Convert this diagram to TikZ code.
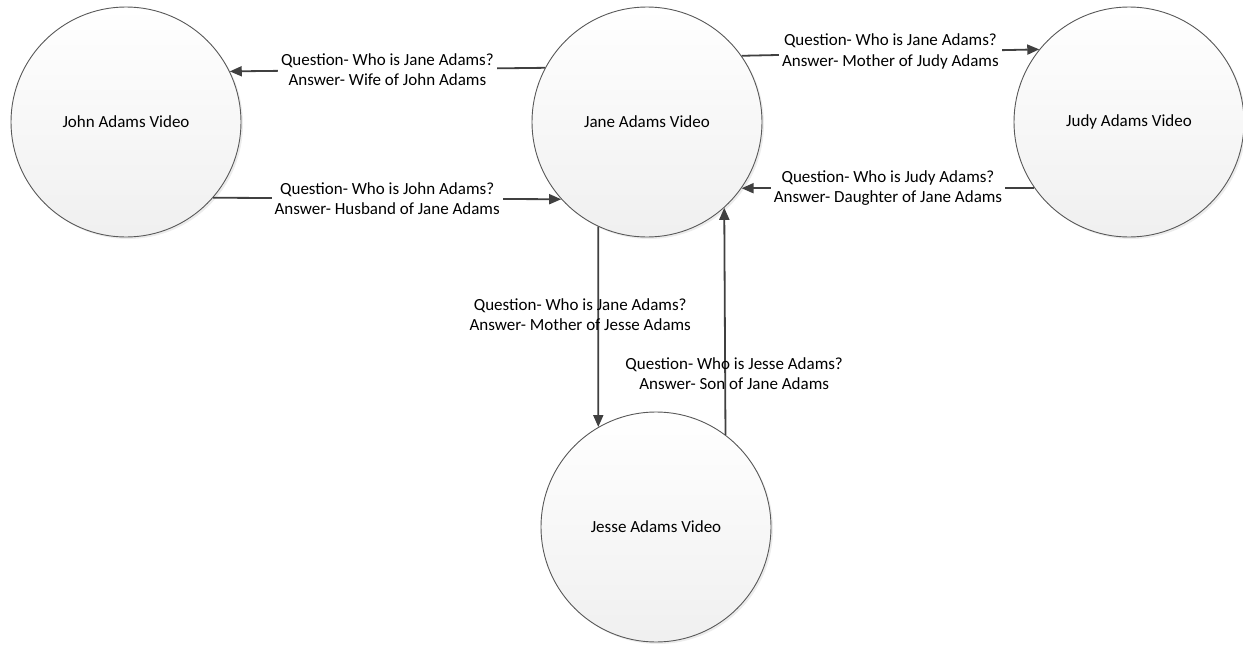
\documentclass[tikz,border=0pt]{standalone}
\usepackage{fontspec}
\setmainfont{Carlito}
\usetikzlibrary{arrows.meta, shadows}

\begin{document}
\begin{tikzpicture}[x=1pt, y=-1pt,
    vid/.style={circle, minimum size=230pt, inner sep=0pt, draw=black!65, line width=0.9pt,
        top color=white, bottom color=black!6, font=\fontsize{17}{20.5}\selectfont,
        drop shadow={shadow xshift=2pt, shadow yshift=-2pt, opacity=0.15}},
    link/.style={draw=black!75, line width=1.8pt, -{Triangle[length=12pt, width=10pt]}},
    qa/.style={align=center, font=\fontsize{17}{20.5}\selectfont, inner sep=3pt}]

    % Fix the canvas
    \useasboundingbox (0, 0) rectangle (1243, 645);

    % The four videos
    \node[vid] (john) at (126, 122) {John Adams Video};
    \node[vid] (jane) at (647, 122) {Jane Adams Video};
    \node[vid] (judy) at (1129, 122) {Judy Adams Video};
    \node[vid] (jesse) at (656, 527) {Jesse Adams Video};

    % John <-> Jane
    \draw[link] (jane.152) -- (john.26)
        node[qa, midway, fill=white] (qwife) {Question- Who is Jane Adams?\\Answer- Wife of John Adams};
    \draw[link] (john.-41.6) -- (jane.-138)
        node[qa, midway, fill=white] (qhusband) {Question- Who is John Adams?\\Answer- Husband of Jane Adams};

    % Jane <-> Judy
    \draw[link] (jane.35) -- (judy.141.9)
        node[qa, midway, fill=white, yshift=1pt] (qmother) {Question- Who is Jane Adams?\\Answer- Mother of Judy Adams};
    \draw[link] (judy.-145) -- (jane.-35)
        node[qa, midway, fill=white] (qdaughter) {Question- Who is Judy Adams?\\Answer- Daughter of Jane Adams};

    % Jane <-> Jesse
    \draw[link] (jane.-115.8) -- (jesse.120.9)
        node[qa, pos=0.44, xshift=-18pt] (qmom) {Question- Who is Jane Adams?\\Answer- Mother of Jesse Adams};
    \draw[link] (jesse.53.7) -- (jane.-48)
        node[qa, pos=0.27, xshift=9pt] (qson) {Question- Who is Jesse Adams?\\Answer- Son of Jane Adams};

\end{tikzpicture}
\end{document}
